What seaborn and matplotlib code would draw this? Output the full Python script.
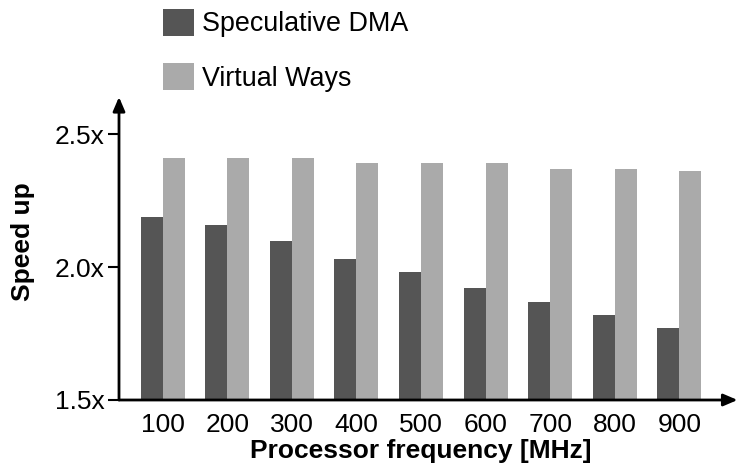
import matplotlib
matplotlib.use("Agg")
import matplotlib.pyplot as plt
import seaborn as sns
import pandas as pd

frequencies = ["100", "200", "300", "400", "500", "600", "700", "800", "900"]
speculative_dma = [2.19, 2.16, 2.10, 2.03, 1.98, 1.92, 1.87, 1.82, 1.77]
virtual_ways = [2.41, 2.41, 2.41, 2.39, 2.39, 2.39, 2.37, 2.37, 2.36]
series_names = ["Speculative DMA", "Virtual Ways"]
ytick_values = [1.5, 2.0, 2.5]
ytick_labels = ["1.5x", "2.0x", "2.5x"]

df = pd.DataFrame({
    "freq": frequencies * 2,
    "speedup": speculative_dma + virtual_ways,
    "series": [series_names[0]] * len(frequencies) + [series_names[1]] * len(frequencies),
})

sns.set_theme(style="white")
plt.rcParams["font.family"] = ["Liberation Sans", "DejaVu Sans"]
plt.rcParams["text.color"] = "black"
plt.rcParams["axes.labelcolor"] = "black"
plt.rcParams["xtick.color"] = "black"
plt.rcParams["ytick.color"] = "black"

FS = 19
fig = plt.figure(figsize=(7.39, 4.66), dpi=100)
ax = fig.add_axes([119 / 739, 1 - 400 / 466, 1 - 119 / 739 - 0.002, (400 - 97) / 466])

sns.barplot(data=df, x="freq", y="speedup", hue="series", order=frequencies,
            hue_order=series_names, palette=["#555555", "#aaaaaa"],
            width=0.68, saturation=1, edgecolor="none", ax=ax, legend=True)

ax.set_ylim(1.5, 2.64)
ax.set_xlim(-0.676, 8.9)
ax.set_yticks(ytick_values)
ax.set_yticklabels(ytick_labels, fontsize=FS, color="black")
ax.tick_params(axis="y", which="both", left=True, length=8, width=1.5, color="black", pad=2.5)
ax.tick_params(axis="x", bottom=False, labelsize=FS, pad=3, labelcolor="black")
ax.set_xlabel("Processor frequency [MHz]", fontsize=FS, fontweight="bold", labelpad=0, color="black")
ax.xaxis.set_label_coords((421.8 - 119) / 620, -0.13)
ax.set_ylabel("Speed up", fontsize=FS, fontweight="bold", color="black")
ax.yaxis.set_label_coords(-0.135, (400 - 242) / 303)

for s in ax.spines.values():
    s.set_visible(False)

ax.annotate("", xy=(1.0, 0), xytext=(0, 0), xycoords="axes fraction",
            arrowprops=dict(arrowstyle="-|>,head_length=0.7,head_width=0.3", color="black", lw=2,
                            shrinkA=0, shrinkB=0))
ax.annotate("", xy=(0, 1.0), xytext=(0, 0), xycoords="axes fraction",
            arrowprops=dict(arrowstyle="-|>,head_length=0.7,head_width=0.3", color="black", lw=2,
                            shrinkA=0, shrinkB=0))

handles, labels = ax.get_legend_handles_labels()
ax.get_legend().remove()
leg = fig.legend(handles, labels, loc="upper left", bbox_to_anchor=(163 / 739, 1 - 9 / 466),
                 frameon=False, fontsize=19.4, handlelength=1.15, handleheight=1.15,
                 labelspacing=0.95, handletextpad=0.3, borderpad=0, borderaxespad=0)
for t in leg.get_texts():
    t.set_color("black")

fig.savefig("out.png", dpi=100)
